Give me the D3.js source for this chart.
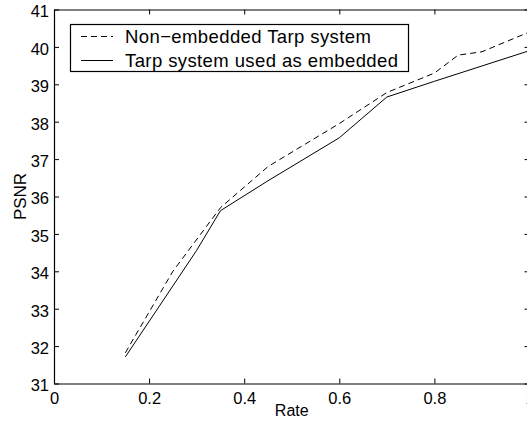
<!DOCTYPE html>
<html lang="en">
<head>
    <meta charset="UTF-8">
    <title>PSNR vs Rate</title>
    <style>
        body { margin: 0; background: #fff; }
        svg { font-family: "Liberation Sans", Arial, sans-serif; display: block; }
        .axis path, .axis line { stroke: #000; }
        .axis text { fill: #000; }
    </style>
</head>
<body>
    <div id="chart"></div>
    <script src="https://d3js.org/d3.v7.min.js"></script>
    <script>
        // Werte
        var rateNonEmb = [0.15, 0.25, 0.35, 0.45, 0.6, 0.7, 0.8, 0.85, 0.9, 1.0];
        var psnrNonEmb = [31.82, 34.0, 35.7, 36.8, 37.95, 38.78, 39.3, 39.78, 39.87, 40.4];

        var rateEmb = [0.15, 0.3, 0.35, 0.45, 0.6, 0.7, 0.8, 1.0];
        var psnrEmb = [31.71, 34.56, 35.62, 36.42, 37.57, 38.66, 39.08, 39.9];

        var xTicks = [0, 0.2, 0.4, 0.6, 0.8, 1];
        var yTicks = [31, 32, 33, 34, 35, 36, 37, 38, 39, 40, 41];

        var seriesNames = ["Non\u2212embedded Tarp system", "Tarp system used as embedded"];
        var seriesDash = ["6,4", null];

        draw();

        function draw() {
            var width = 527, height = 421;
            var mLeft = 54, mRight = 529.5, mTop = 9.5, mBottom = 383.5;

            var svg = d3.select("#chart").append("svg")
                .attr("width", width)
                .attr("height", height);

            var x = d3.scaleLinear().domain([0, 1]).range([mLeft, mRight]);
            var y = d3.scaleLinear().domain([31, 41]).range([mBottom, mTop]);

            // Achsen, Ticks nach innen, auch oben und rechts
            svg.append("g")
                .attr("class", "axis")
                .attr("transform", "translate(0," + mBottom + ")")
                .call(d3.axisBottom(x).tickValues(xTicks).tickSizeInner(-5).tickSizeOuter(0).tickPadding(9).tickFormat(d3.format("~g")))
                .call(function (g) { g.selectAll("text").attr("font-size", 16.5); });

            svg.append("g")
                .attr("class", "axis")
                .attr("transform", "translate(0," + mTop + ")")
                .call(d3.axisTop(x).tickValues(xTicks).tickSizeInner(-5).tickSizeOuter(0).tickFormat(""));

            svg.append("g")
                .attr("class", "axis")
                .attr("transform", "translate(" + mLeft + ",0)")
                .call(d3.axisLeft(y).tickValues(yTicks).tickSizeInner(-5).tickSizeOuter(0).tickPadding(5))
                .call(function (g) {
                    g.selectAll("text").attr("font-size", 16.5).attr("dy", "0.45em");
                });

            svg.append("g")
                .attr("class", "axis")
                .attr("transform", "translate(" + mRight + ",0)")
                .call(d3.axisRight(y).tickValues(yTicks).tickSizeInner(-5).tickSizeOuter(0).tickFormat(""));

            svg.selectAll(".axis path").attr("stroke-width", 1.2);

            // Achsenbeschriftungen
            svg.append("text")
                .attr("x", (mLeft + mRight) / 2)
                .attr("y", 416)
                .attr("text-anchor", "middle")
                .attr("font-size", 16)
                .text("Rate");

            svg.append("text")
                .attr("transform", "translate(26," + ((mTop + mBottom) / 2) + ") rotate(-90)")
                .attr("text-anchor", "middle")
                .attr("font-size", 17)
                .text("PSNR");

            // Linien
            var line = d3.line()
                .x(function (d) { return x(d[0]); })
                .y(function (d) { return y(d[1]); });

            svg.append("path")
                .datum(d3.zip(rateNonEmb, psnrNonEmb))
                .attr("fill", "none")
                .attr("stroke", "#000")
                .attr("stroke-width", 1)
                .attr("stroke-dasharray", seriesDash[0])
                .attr("d", line);

            svg.append("path")
                .datum(d3.zip(rateEmb, psnrEmb))
                .attr("fill", "none")
                .attr("stroke", "#000")
                .attr("stroke-width", 1)
                .attr("d", line);

            // Legende
            var legend = svg.append("g");
            legend.append("rect")
                .attr("x", 70.5).attr("y", 24.5)
                .attr("width", 338).attr("height", 47)
                .attr("fill", "#fff").attr("stroke", "#000").attr("stroke-width", 1.2);

            seriesNames.forEach(function (name, i) {
                var ly = 36.5 + i * 24;
                legend.append("line")
                    .attr("x1", 81).attr("x2", 113)
                    .attr("y1", ly).attr("y2", ly)
                    .attr("stroke", "#000")
                    .attr("stroke-width", 1)
                    .attr("stroke-dasharray", seriesDash[i]);
                legend.append("text")
                    .attr("x", 125).attr("y", ly)
                    .attr("dy", "0.35em")
                    .attr("font-size", 18.5)
                    .attr("letter-spacing", 0.4)
                    .text(name);
            });
        }
    </script>
</body>
</html>
